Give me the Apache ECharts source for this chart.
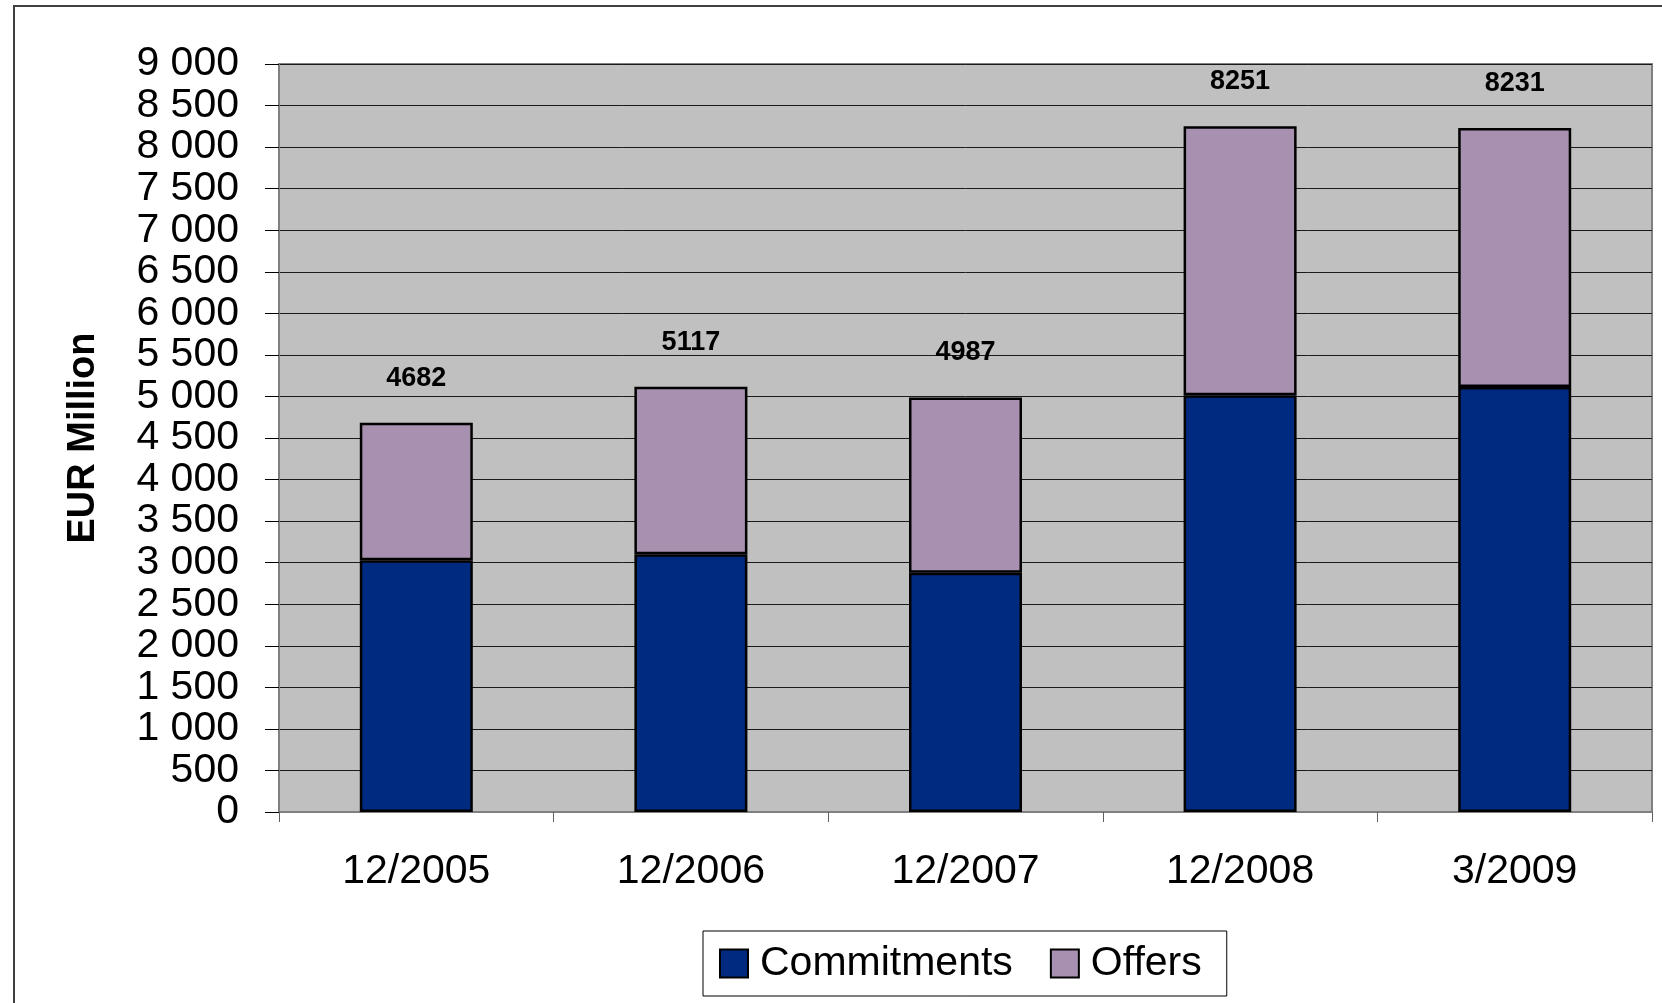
<!DOCTYPE html>
<html>
<head>
<meta charset="utf-8">
<script src="https://cdn.jsdelivr.net/npm/echarts@6/dist/echarts.min.js"></script>
<style>
html,body{margin:0;padding:0;background:#fff;}
#chart{width:1662px;height:1003px;}
</style>
</head>
<body>
<div id="chart"></div>
<script>
const categories = ['12/2005', '12/2006', '12/2007', '12/2008', '3/2009'];
const commitments = [3030, 3100, 2880, 5015, 5115];
const offers = [1652, 2017, 2107, 3236, 3116];
const totals = [4682, 5117, 4987, 8251, 8231];
const seriesNames = ['Commitments', 'Offers'];
const yMin = 0, yMax = 9000, yStep = 500;

const FONT = '"Liberation Sans", Arial, sans-serif';
function fmt(v) {
  if (v >= 1000) return Math.floor(v / 1000) + ' ' + String(v % 1000).padStart(3, '0');
  return String(v);
}

const chart = echarts.init(document.getElementById('chart'));
chart.setOption({
  animation: false,
  backgroundColor: '#ffffff',
  graphic: [{
    type: 'rect', silent: true, z: -10,
    shape: { x: 14, y: 6, width: 1700, height: 1100 },
    style: { fill: 'none', stroke: '#404040', lineWidth: 2 }
  }],
  grid: {
    left: 279, right: 10, top: 64, bottom: 191,
    show: true, backgroundColor: '#c0c0c0', borderColor: '#808080', borderWidth: 2
  },
  legend: {
    data: seriesNames,
    left: 703, top: 931,
    padding: [12, 25, 12, 16],
    itemGap: 37,
    itemWidth: 28, itemHeight: 28,
    icon: 'rect',
    borderColor: '#000', borderWidth: 1,
    backgroundColor: '#fff',
    textStyle: { fontFamily: FONT, fontSize: 41, color: '#000', padding: [0, 0, 0, 7] },
    itemStyle: { borderColor: '#000', borderWidth: 2 }
  },
  xAxis: {
    type: 'category',
    data: categories,
    boundaryGap: true,
    axisLine: { show: true, lineStyle: { color: '#808080', width: 2 } },
    axisTick: { show: true, alignWithLabel: false, length: 10, lineStyle: { color: '#606060', width: 1 } },
    axisLabel: { fontFamily: FONT, fontSize: 41, color: '#000', margin: 39 },
    splitLine: { show: false }
  },
  yAxis: {
    type: 'value',
    min: yMin, max: yMax, interval: yStep,
    name: 'EUR Million',
    nameLocation: 'middle',
    nameRotate: 90,
    nameGap: 176,
    nameTextStyle: { fontFamily: FONT, fontSize: 38, fontWeight: 'bold', color: '#000' },
    axisLine: { show: true, lineStyle: { color: '#808080', width: 2 } },
    axisTick: { show: true, length: 14, lineStyle: { color: '#000', width: 1 } },
    axisLabel: { fontFamily: FONT, fontSize: 41, color: '#000', margin: 40, formatter: fmt },
    splitLine: { show: true, lineStyle: { color: '#1a1a1a', width: 1 } }
  },
  series: [
    {
      name: seriesNames[0], type: 'bar', stack: 'total', data: commitments,
      barWidth: 113,
      itemStyle: { color: '#002a7f', borderColor: '#000', borderWidth: 2.5 }
    },
    {
      name: seriesNames[1], type: 'bar', stack: 'total', data: offers,
      barWidth: 113,
      itemStyle: { color: '#a891b0', borderColor: '#000', borderWidth: 2.5 },
      label: {
        show: true, position: 'top', distance: 31,
        fontFamily: FONT, fontSize: 27, fontWeight: 'bold', color: '#000',
        formatter: p => String(totals[p.dataIndex])
      }
    }
  ]
});
</script>
</body>
</html>
